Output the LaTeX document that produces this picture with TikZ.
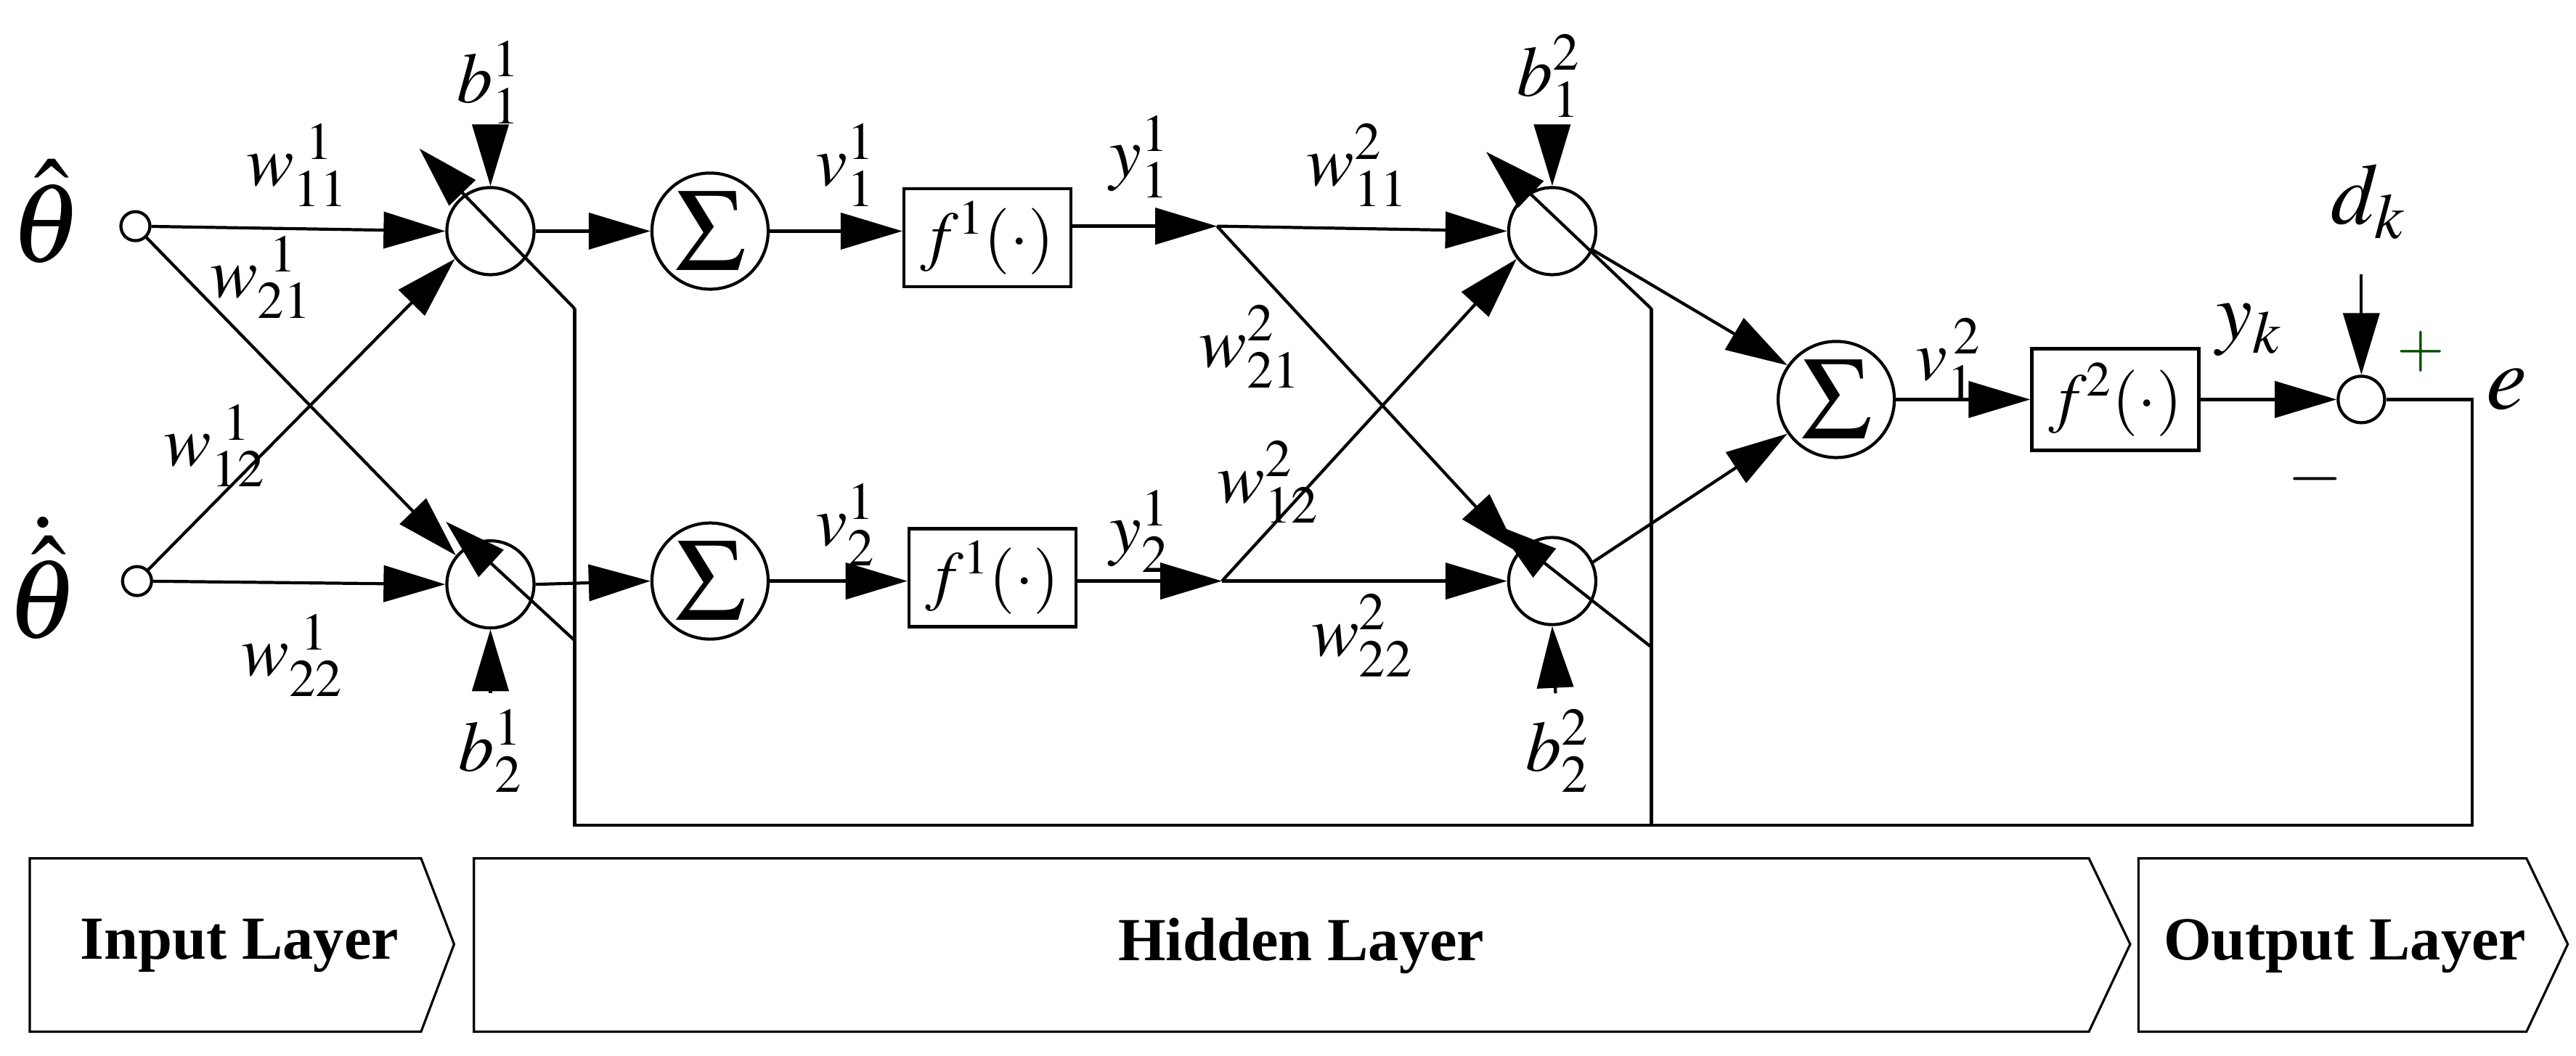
\documentclass[tikz,border=0pt]{standalone}
\usepackage{mathptmx}
\usepackage{fontspec}
\setmainfont{Liberation Serif}
\usetikzlibrary{arrows.meta}
\begin{document}
\begin{tikzpicture}[x=0.02274cm,y=-0.02274cm,
  line width=1.2pt,
  ar/.style={-{Triangle[length=0.85cm,width=0.5cm]}},
  neu/.style={circle,draw,minimum size=1.2cm,inner sep=0pt},
  sig/.style={circle,draw,minimum size=1.6cm,inner sep=0pt,font=\fontsize{46}{50}\selectfont},
  box/.style={draw,minimum width=2.3cm,minimum height=1.35cm,font=\fontsize{26}{30}\selectfont},
  lab/.style={font=\fontsize{28}{32}\selectfont},
  big/.style={font=\fontsize{44}{48}\selectfont},
  lay/.style={draw,line width=0.9pt},
  layt/.style={font=\fontsize{24}{28}\selectfont\bfseries}]
\useasboundingbox (0,0) rectangle (1560,639.3);
% input nodes
\node[circle,draw,minimum size=0.4cm,inner sep=0pt] (i1) at (82,137) {};
\node[circle,draw,minimum size=0.4cm,inner sep=0pt] (i2) at (83,352) {};
\node[big] (t1) at (28,128) {$\hat\theta$};
\node[big] (t2) at (26,350) {$\dot{\hat\theta}$};
% first neurons
\node[neu] (n11) at (297,140) {};
\node[neu] (n21) at (297,354) {};
\node[sig] (s1) at (430,140) {$\Sigma$};
\node[sig] (s2) at (430,352) {$\Sigma$};
\node[box] (f1) at (598,144) {$f^{1}(\cdot)$};
\node[box] (f2) at (601,350) {$f^{1}(\cdot)$};
\coordinate (h1) at (737,137);
\coordinate (h2) at (740,352);
% second neurons
\node[neu] (n12) at (940,140) {};
\node[neu] (n22) at (940,352) {};
\node[sig] (s3) at (1112,242) {$\Sigma$};
\node[box,minimum height=1.4cm] (f3) at (1281,242) {$f^{2}(\cdot)$};
\node[circle,draw,minimum size=0.64cm,inner sep=0pt] (er) at (1430,242) {};
% bias
\node[lab] (b11) at (296,50) {$b_1^1$};
\node[lab] (b21) at (297,455) {$b_2^1$};
\node[lab] (b12) at (938,46) {$b_1^2$};
\node[lab] (b22) at (943,455) {$b_2^2$};
\node[big,font=\fontsize{34}{38}\selectfont] (dk) at (1434,122) {$d_k$};
\coordinate (b11s) at (297,80);
\coordinate (b21s) at (297,420);
\coordinate (b12s) at (940,78);
\coordinate (b22s) at (942,420);
\coordinate (dks) at (1430,166);
\draw[ar] (b11s) -- (n11.north);
\draw[ar] (b21s) -- (n21.south);
\draw[ar] (b12s) -- (n12.north);
\draw[ar] (b22s) -- (n22.south);
\draw[ar] (dks) -- (er.north);
% layer 1 weights
\draw[ar] (i1) -- (n11.west);
\draw[ar] (i1) -- (n21.140);
\draw[ar] (i2) -- (n11.218);
\draw[ar] (i2) -- (n21.west);
\draw[ar] (n11.east) -- (s1.west);
\draw[ar] (n21.east) -- (s2.west);
\draw[ar] (s1.east) -- (f1.west |- s1.east);
\draw[ar] (s2.east) -- (f2.west |- s2.east);
\draw[ar] (f1.east |- h1) -- (h1);
\draw[ar] (f2.east |- h2) -- (h2);
% layer 2 weights
\draw[ar] (h1) -- (n12.west);
\draw[ar] (h1) -- (n22.140);
\draw[ar] (h2) -- (n12.218);
\draw[ar] (h2) -- (n22.west);
\draw[ar] (n12.-25) -- (s3.145);
\draw[ar] (n22.25) -- (s3.215);
\draw[ar] (s3.east) -- (f3.west);
\draw[ar] (f3.east) -- (er.west);
% feedback
\coordinate (fa) at (348,187);
\coordinate (fat) at (254,90);
\coordinate (fb) at (348,388);
\coordinate (fbt) at (270,316);
\coordinate (fc) at (1000,187);
\coordinate (fct) at (900,92);
\coordinate (fd) at (1000,392);
\coordinate (fdt) at (906,318);
\coordinate (bl) at (348,500);
\coordinate (bm) at (1000,500);
\coordinate (br) at (1497,500);
\coordinate (bt) at (1497,242);
\draw[ar] (fa) -- (fat);
\draw[ar] (fb) -- (fbt);
\draw[ar] (fc) -- (fct);
\draw[ar] (fd) -- (fdt);
\draw (fa) -- (bl) -- (br) -- (bt) -- (er.east);
\draw (fc) -- (bm);
% labels
\node[lab] at (180,100) {$w_{11}^{\;1}$};
\node[lab] at (158,168) {$w_{21}^{\;1}$};
\node[lab] at (130,270) {$w_{12}^{\;1}$};
\node[lab] at (177,397) {$w_{22}^{\;1}$};
\node[lab] at (512,100) {$v_1^1$};
\node[lab] at (512,318) {$v_2^1$};
\node[lab] at (690,95) {$y_1^1$};
\node[lab] at (690,322) {$y_2^1$};
\node[lab] at (822,100) {$w_{11}^{2}$};
\node[lab] at (757,210) {$w_{21}^{2}$};
\node[lab] at (768,292) {$w_{12}^{2}$};
\node[lab] at (825,385) {$w_{22}^{2}$};
\node[lab] at (1180,218) {$v_1^{\,2}$};
\node[big,font=\fontsize{32}{36}\selectfont] at (1362,200) {$y_k$};
\node[font=\fontsize{24}{26}\selectfont,text=green!30!black] at (1466,213) {$+$};
\node[font=\fontsize{28}{30}\selectfont] at (1402,290) {$-$};
\node[big,font=\fontsize{36}{40}\selectfont] at (1518,236) {$e$};
% layer arrows
\draw[lay] (18,520) -- (255,520) -- (275,572) -- (255,625) -- (18,625) -- cycle;
\node[layt] at (145,573) {Input Layer};
\draw[lay] (287,520) -- (1265,520) -- (1290,572) -- (1265,625) -- (287,625) -- cycle;
\node[layt] at (788,573) {Hidden Layer};
\draw[lay] (1295,520) -- (1530,520) -- (1555,572) -- (1530,625) -- (1295,625) -- cycle;
\node[layt] at (1420,573) {Output Layer};
\end{tikzpicture}
\end{document}
